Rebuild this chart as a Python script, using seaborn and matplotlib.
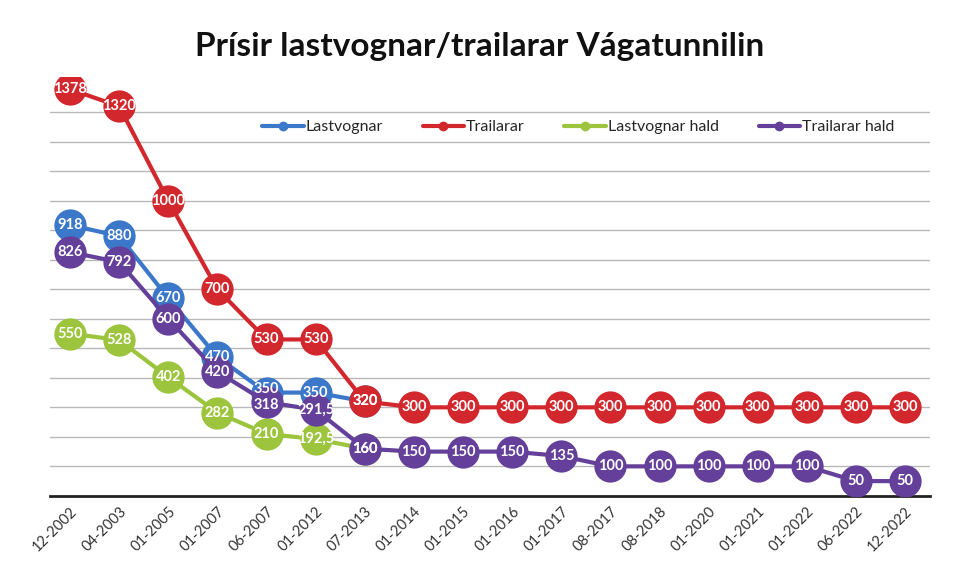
import numpy as np
import pandas as pd
import seaborn as sns
import matplotlib
matplotlib.use("Agg")
import matplotlib.pyplot as plt
from matplotlib.lines import Line2D

dates = ['12-2002', '04-2003', '01-2005', '01-2007', '06-2007', '01-2012', '07-2013',
         '01-2014', '01-2015', '01-2016', '01-2017', '08-2017', '08-2018', '01-2020',
         '01-2021', '01-2022', '06-2022', '12-2022']

lastvognar = [918, 880, 670, 470, 350, 350, 320]
trailarar = [1378, 1320, 1000, 700, 530, 530, 320, 300, 300, 300, 300, 300, 300, 300,
             300, 300, 300, 300]
lastvognar_hald = [550, 528, 402, 282, 210, 192.5, 160]
trailarar_hald = [826, 792, 600, 420, 318, 291.5, 160, 150, 150, 150, 135, 100, 100, 100,
                  100, 100, 50, 50]

series = [
    ('Lastvognar', lastvognar, '#3b78c9'),
    ('Trailarar', trailarar, '#d2282d'),
    ('Lastvognar hald', lastvognar_hald, '#9cc43d'),
    ('Trailarar hald', trailarar_hald, '#64409a'),
]

# small vertical nudge (points) for labels that would sit on top of each other
nudge = {('Lastvognar', 4): 2.5, ('Trailarar hald', 4): -2.5}

sns.set_style("white")
plt.rcParams['font.family'] = ['Lato', 'DejaVu Sans']

fig = plt.figure(figsize=(9.6, 5.82), dpi=100)
ax = fig.add_axes([0.052, 0.148, 0.917, 0.72])

handles = []
for k, (name, vals, color) in enumerate(series):
    df = pd.DataFrame({'x': np.arange(len(vals)), 'y': vals})
    z = 2 + k * 2
    sns.lineplot(data=df, x='x', y='y', ax=ax, color=color, lw=3, zorder=z, legend=False)
    sns.scatterplot(data=df, x='x', y='y', ax=ax, color=color, s=540, linewidth=0,
                    zorder=z + 1, legend=False)
    # value labels sit on top of every marker, like in the original
    for i, v in enumerate(vals):
        txt = ('%g' % v).replace('.', ',')
        ax.annotate(txt, (i, v), xytext=(0, nudge.get((name, i), 0)),
                    textcoords='offset points', color='white', fontsize=10.5,
                    fontweight='bold', ha='center', va='center', zorder=20)
    handles.append(Line2D([], [], color=color, lw=3, marker='o', markersize=6, label=name))

ax.set_ylim(0, 1420)
ax.set_xlim(-0.41, len(dates) - 1 + 0.51)
ax.set_yticks(np.arange(100, 1301, 100))
ax.set_yticklabels([])
ax.tick_params(axis='y', length=0)
ax.yaxis.grid(True, color='#b8b8b8', lw=1)
ax.set_axisbelow(True)
ax.set_xticks(np.arange(len(dates)))
ax.set_xticklabels(dates, rotation=45, ha='right', rotation_mode='anchor',
                   fontsize=10.5, color='#333333')
ax.tick_params(axis='x', length=0, pad=6)
ax.set_xlabel('')
ax.set_ylabel('')
for s in ['left', 'right', 'top']:
    ax.spines[s].set_visible(False)
ax.spines['bottom'].set_color('#222222')
ax.spines['bottom'].set_linewidth(2)

ax.legend(handles=handles, loc='center', bbox_to_anchor=(0.6, 0.88), ncol=4,
          frameon=False, fontsize=11.5, handlelength=2.6, handletextpad=0.1,
          columnspacing=2.5)

fig.text(0.5, 0.92, 'Prísir lastvognar/trailarar Vágatunnilin', ha='center',
         va='center', fontsize=24, fontweight='bold', color='#111111')

fig.savefig('out.png', dpi=100)
